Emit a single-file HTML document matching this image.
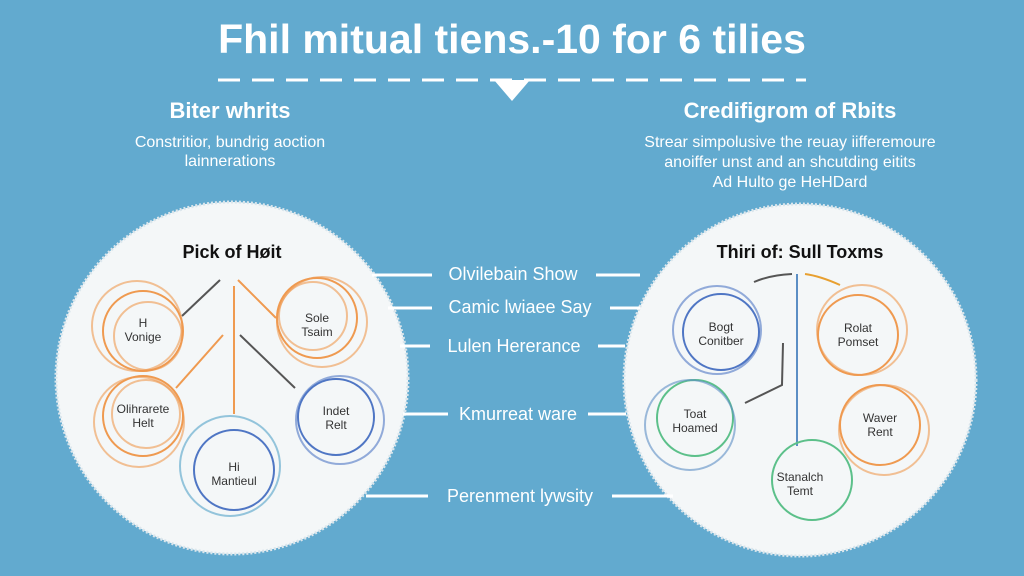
<!DOCTYPE html>
<html><head><style>
body{margin:0;width:1024px;height:576px;overflow:hidden;background:#62aacf;font-family:"Liberation Sans",sans-serif;position:relative}
.t{position:absolute;white-space:nowrap;text-align:center}
</style></head><body>
<svg width="1024" height="576" style="position:absolute;left:0;top:0">
<line x1="218" y1="80" x2="806" y2="80" stroke="#fff" stroke-width="3" stroke-dasharray="22,12"/>
<polygon points="494,80 530,80 512,101" fill="#fff"/>
<circle cx="232" cy="378" r="176" fill="#f4f7f8" stroke="#dbe6ec" stroke-width="3" stroke-dasharray="2,2"/>
<circle cx="800" cy="380" r="176" fill="#f4f7f8" stroke="#dbe6ec" stroke-width="3" stroke-dasharray="2,2"/>
<g stroke="#fff" stroke-width="3">
<line x1="372" y1="275" x2="432" y2="275"/><line x1="596" y1="275" x2="640" y2="275"/>
<line x1="388" y1="308" x2="432" y2="308"/><line x1="610" y1="308" x2="640" y2="308"/>
<line x1="400" y1="346" x2="430" y2="346"/><line x1="598" y1="346" x2="625" y2="346"/>
<line x1="403" y1="414" x2="448" y2="414"/><line x1="588" y1="414" x2="626" y2="414"/>
<line x1="366" y1="496" x2="428" y2="496"/><line x1="612" y1="496" x2="673" y2="496"/>
</g>
<g fill="none" stroke-width="2">
<line x1="220" y1="280" x2="182" y2="316" stroke="#555"/>
<line x1="234" y1="286" x2="234" y2="414" stroke="#ef9a50"/>
<line x1="238" y1="280" x2="276" y2="318" stroke="#ef9a50"/>
<line x1="223" y1="335" x2="176" y2="388" stroke="#ef9a50"/>
<line x1="240" y1="335" x2="295" y2="388" stroke="#555"/>
<path d="M754,282 Q770,275 792,274" stroke="#555"/>
<line x1="797" y1="274" x2="797" y2="446" stroke="#5b8ec4"/>
<path d="M805,274 Q820,276 840,285" stroke="#e8a030"/>
<path d="M783,343 L782,385 L745,403" stroke="#555"/>
<g stroke="#ef9a50"><circle cx="143" cy="331" r="40"/><circle cx="137" cy="326" r="45" opacity=".6"/><circle cx="148" cy="336" r="34" opacity=".6"/>
<circle cx="317" cy="318" r="40"/><circle cx="322" cy="322" r="45" opacity=".6"/><circle cx="313" cy="316" r="34" opacity=".6"/>
<circle cx="143" cy="416" r="40"/><circle cx="139" cy="422" r="45" opacity=".6"/><circle cx="146" cy="414" r="34" opacity=".6"/>
<circle cx="858" cy="335" r="40"/><circle cx="862" cy="330" r="45" opacity=".6"/>
<circle cx="880" cy="425" r="40"/><circle cx="884" cy="430" r="45" opacity=".6"/></g>
<g stroke="#4f76c4"><circle cx="336" cy="417" r="38"/><circle cx="340" cy="420" r="44" opacity=".6"/>
<circle cx="234" cy="470" r="40"/><circle cx="230" cy="466" r="50" stroke="#6aaecf" opacity=".7"/>
<circle cx="721" cy="332" r="38"/><circle cx="717" cy="330" r="44" opacity=".6"/></g>
<g stroke="#5cc08a"><circle cx="695" cy="418" r="38"/><circle cx="812" cy="480" r="40"/></g>
<circle cx="690" cy="425" r="45" stroke="#5b8ec4" opacity=".6"/>
</g>
</svg>
<div class="t" style="left:0;width:1024px;top:16px;font-size:41px;color:#fff;font-weight:bold">Fhil mitual tiens.-10 for 6 tilies</div>
<div class="t" style="left:100px;width:260px;top:98px;font-size:22px;color:#fff;font-weight:bold">Biter whrits</div>
<div class="t" style="left:80px;width:300px;top:133px;font-size:16px;color:#fff;line-height:19px">Constritior, bundrig aoction<br>lainnerations</div>
<div class="t" style="left:640px;width:300px;top:98px;font-size:22px;color:#fff;font-weight:bold">Credifigrom of Rbits</div>
<div class="t" style="left:590px;width:400px;top:133px;font-size:16px;color:#fff;line-height:20px">Strear simpolusive the reuay iifferemoure<br>anoiffer unst and an shcutding eitits<br>Ad Hulto ge HeHDard</div>
<div class="t" style="left:132px;width:200px;top:242px;font-size:18px;color:#111;font-weight:bold">Pick of Høit</div>
<div class="t" style="left:700px;width:200px;top:242px;font-size:18px;color:#111;font-weight:bold">Thiri of: Sull Toxms</div>
<div class="t" style="left:428px;width:170px;top:264px;font-size:18px;color:#fff">Olvilebain Show</div>
<div class="t" style="left:428px;width:184px;top:297px;font-size:18px;color:#fff">Camic lwiaee Say</div>
<div class="t" style="left:428px;width:172px;top:336px;font-size:18px;color:#fff">Lulen Hererance</div>
<div class="t" style="left:446px;width:144px;top:404px;font-size:18px;color:#fff">Kmurreat ware</div>
<div class="t" style="left:426px;width:188px;top:486px;font-size:18px;color:#fff">Perenment lywsity</div>
<div style="position:absolute;font-size:12px;color:#333;text-align:center;line-height:14px">
<div class="t" style="left:103px;width:80px;top:316px">H<br>Vonige</div>
<div class="t" style="left:277px;width:80px;top:311px">Sole<br>Tsaim</div>
<div class="t" style="left:103px;width:80px;top:402px">Olihrarete<br>Helt</div>
<div class="t" style="left:296px;width:80px;top:404px">Indet<br>Relt</div>
<div class="t" style="left:194px;width:80px;top:460px">Hi<br>Mantieul</div>
<div class="t" style="left:681px;width:80px;top:320px">Bogt<br>Conitber</div>
<div class="t" style="left:818px;width:80px;top:321px">Rolat<br>Pomset</div>
<div class="t" style="left:655px;width:80px;top:407px">Toat<br>Hoamed</div>
<div class="t" style="left:840px;width:80px;top:411px">Waver<br>Rent</div>
<div class="t" style="left:760px;width:80px;top:470px">Stanalch<br>Temt</div>
</div>
</body></html>
